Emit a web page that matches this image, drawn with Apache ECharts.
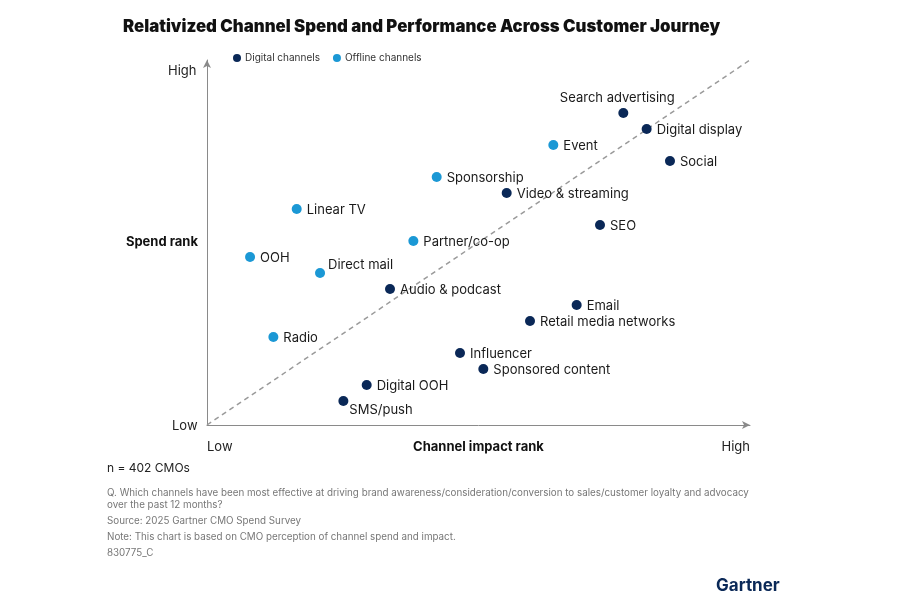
<!DOCTYPE html>
<html><head><meta charset="utf-8">
<script src="https://cdn.jsdelivr.net/npm/echarts@6/dist/echarts.min.js"></script>
<style>html,body{margin:0;padding:0;background:#fff}#c{width:900px;height:600px}</style>
</head><body><div id="c"></div>
<script>
// Data
const channels = ["Search advertising","Digital display","Event","Social","Sponsorship","Video & streaming","Linear TV","SEO","Partner/co-op","OOH","Direct mail","Audio & podcast","Email","Retail media networks","Radio","Influencer","Sponsored content","Digital OOH","SMS/push"];
const impactRank = [17,18,14,19,9,12,3,16,8,1,4,7,15,13,2,10,11,6,5];
const spendRank  = [19,18,17,16,15,14,13,12,11,10,9,8,7,6,5,4,3,2,1];
const channelType = ["Digital","Digital","Offline","Digital","Offline","Digital","Offline","Digital","Offline","Offline","Offline","Digital","Digital","Digital","Offline","Digital","Digital","Digital","Digital"];
const axisEnds = ["Low","High"];

const X_MIN = -0.845, X_MAX = 22.43, Y_MIN = -0.5, Y_MAX = 22.31;
const DIGITAL = '#0a2857', OFFLINE = '#1b98d5';
const FONT = 'Inter, Roboto, sans-serif';

const labelPos = {
  "Search advertising": {position:'top', offset:[-6,2]},
  "Direct mail": {position:'right', offset:[-2,-8]},
  "SMS/push": {position:'right', offset:[-4,9]}
};

function build(type){
  const out=[];
  channels.forEach((n,i)=>{
    if(channelType[i]!==type) return;
    const lp = labelPos[n] || {position:'right', offset:[0,1]};
    out.push({name:n, value:[impactRank[i], spendRank[i]], label:{show:true, formatter:n, position:lp.position, offset:lp.offset}});
  });
  return out;
}

const chart = echarts.init(document.getElementById('c'));
const lbl = {color:'#1a1a1a', fontSize:13, fontFamily:FONT, distance:5};
chart.setOption({
  animation:false,
  title:{text:'Relativized Channel Spend and Performance Across Customer Journey', left:118, top:13,
    textStyle:{fontFamily:FONT, fontWeight:900, fontSize:16.8, color:'#111'}},
  legend:{left:228, top:48, icon:'circle', itemWidth:8, itemHeight:8, itemGap:13,
    textStyle:{fontFamily:FONT, fontSize:10, color:'#333', padding:[0,0,0,-1]},
    data:['Digital channels','Offline channels']},
  grid:{left:207, right:150, top:60, bottom:175},
  xAxis:{type:'value', min:X_MIN, max:X_MAX, splitLine:{show:false}, axisTick:{show:false}, axisLabel:{show:false},
    axisLine:{show:true, onZero:false, symbol:['none','arrow'], symbolSize:[6,8], lineStyle:{color:'#8a8a8a', width:1}},
    name:'Channel impact rank', nameLocation:'middle', nameGap:16,
    nameTextStyle:{fontFamily:FONT, fontWeight:700, fontSize:13, color:'#111', verticalAlign:'top'}},
  yAxis:{type:'value', min:Y_MIN, max:Y_MAX, splitLine:{show:false}, axisTick:{show:false}, axisLabel:{show:false},
    axisLine:{show:true, onZero:false, symbol:['none','arrow'], symbolSize:[6,8], lineStyle:{color:'#8a8a8a', width:1}},
    name:'Spend rank', nameLocation:'middle', nameRotate:0, nameGap:9,
    nameTextStyle:{fontFamily:FONT, fontWeight:700, fontSize:13, color:'#111', align:'right', padding:[4,0,0,0]}},
  series:[
    {type:'line', silent:true, symbol:'none', data:[[X_MIN,Y_MIN],[X_MAX,Y_MAX]],
      lineStyle:{type:[5,4], color:'#9a9a9a', width:1.5}, z:1},
    {name:'Digital channels', type:'scatter', symbolSize:10, itemStyle:{color:DIGITAL, opacity:1}, label:lbl, data:build('Digital'), z:3},
    {name:'Offline channels', type:'scatter', symbolSize:10, itemStyle:{color:OFFLINE, opacity:1}, label:lbl, data:build('Offline'), z:3}
  ],
  graphic:[
    {type:'text', left:168, top:65, style:{text:axisEnds[1], fontFamily:FONT, fontSize:13, fill:'#222'}},
    {type:'text', left:172, top:420, style:{text:axisEnds[0], fontFamily:FONT, fontSize:13, fill:'#222'}},
    {type:'text', left:207, top:441, style:{text:axisEnds[0], fontFamily:FONT, fontSize:13, fill:'#222'}},
    {type:'text', right:150, top:441, style:{text:axisEnds[1], fontFamily:FONT, fontSize:13, fill:'#222'}},
    {type:'text', left:107, top:462, style:{text:'n = 402 CMOs', fontFamily:FONT, fontSize:12, fill:'#222'}},
    {type:'text', left:107, top:487, style:{text:'Q. Which channels have been most effective at driving brand awareness/consideration/conversion to sales/customer loyalty and advocacy\nover the past 12 months?', fontFamily:FONT, fontSize:9.8, lineHeight:12, fill:'#777'}},
    {type:'text', left:107, top:516, style:{text:'Source: 2025 Gartner CMO Spend Survey', fontFamily:FONT, fontSize:9.8, fill:'#777'}},
    {type:'text', left:107, top:532, style:{text:'Note: This chart is based on CMO perception of channel spend and impact.', fontFamily:FONT, fontSize:9.8, fill:'#777'}},
    {type:'text', left:107, top:548, style:{text:'830775_C', fontFamily:FONT, fontSize:9.8, fill:'#777'}},
    {type:'text', left:716, top:577, style:{text:'Gartner', fontFamily:FONT, fontWeight:700, fontSize:17, fill:'#0a2857'}}
  ]
});
</script></body></html>
